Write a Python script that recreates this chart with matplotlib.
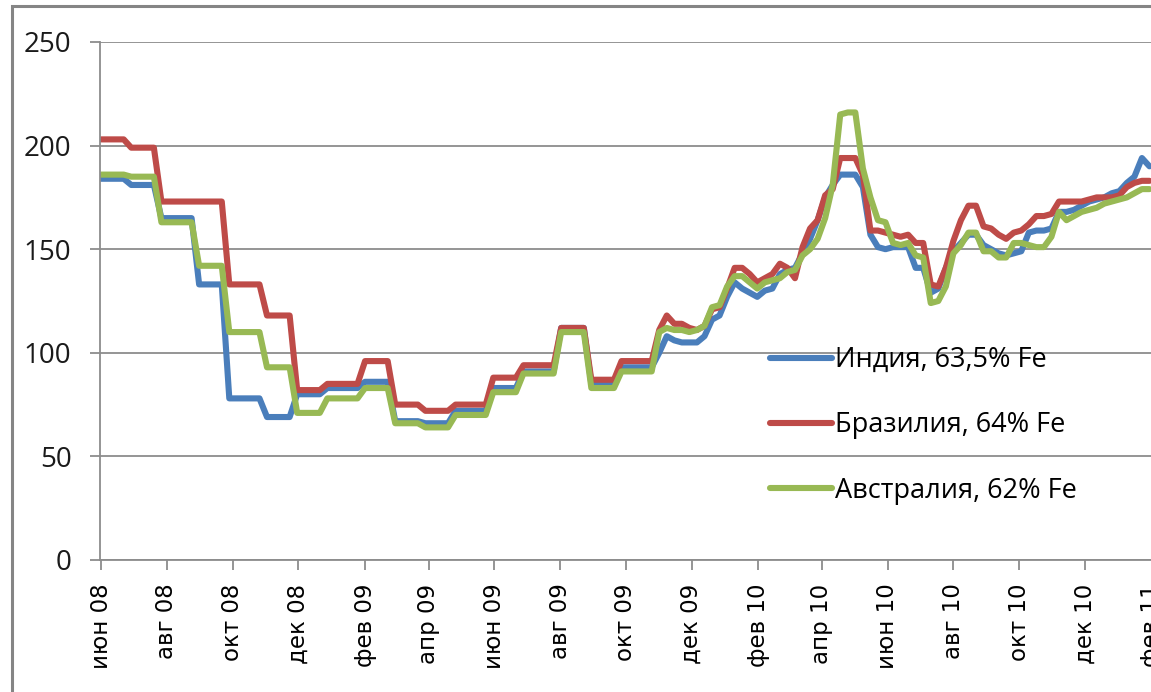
import pandas as pd
import matplotlib
matplotlib.use('Agg')
import matplotlib.pyplot as plt
from matplotlib.patches import Rectangle

# =============================================================================
# Данные: недельные цены железной руды, $/т, с 1 июня 2008
# =============================================================================
start_date = '2008-06-01'

india = [
    184, 184, 184, 184, 181, 181, 181, 181, 165, 165,
    165, 165, 165, 133, 133, 133, 133, 78, 78, 78,
    78, 78, 69, 69, 69, 69, 80, 80, 80, 80,
    83, 83, 83, 83, 83, 86, 86, 86, 86, 67,
    67, 67, 67, 66, 66, 66, 66, 72, 72, 72,
    72, 72, 83, 83, 83, 83, 91, 91, 91, 91,
    91, 112, 112, 112, 112, 85, 85, 85, 85, 93,
    93, 93, 93, 93, 100, 108, 106, 105, 105, 105,
    108, 116, 118, 127, 134, 131, 129, 127, 130, 131,
    138, 140, 141, 148, 155, 164, 175, 181, 186, 186,
    186, 180, 157, 151, 150, 151, 151, 151, 141, 141,
    129, 131, 141, 149, 153, 157, 157, 152, 150, 148,
    147, 148, 149, 158, 159, 159, 160, 168, 168, 169,
    171, 173, 174, 175, 177, 178, 182, 185, 194, 190,
]

brazil = [
    203, 203, 203, 203, 199, 199, 199, 199, 173, 173,
    173, 173, 173, 173, 173, 173, 173, 133, 133, 133,
    133, 133, 118, 118, 118, 118, 82, 82, 82, 82,
    85, 85, 85, 85, 85, 96, 96, 96, 96, 75,
    75, 75, 75, 72, 72, 72, 72, 75, 75, 75,
    75, 75, 88, 88, 88, 88, 94, 94, 94, 94,
    94, 112, 112, 112, 112, 87, 87, 87, 87, 96,
    96, 96, 96, 96, 111, 118, 114, 114, 112, 111,
    113, 121, 122, 131, 141, 141, 138, 134, 136, 138,
    143, 141, 136, 151, 160, 164, 176, 179, 194, 194,
    194, 186, 159, 159, 158, 157, 156, 157, 153, 153,
    133, 132, 141, 154, 164, 171, 171, 161, 160, 157,
    155, 158, 159, 162, 166, 166, 167, 173, 173, 173,
    173, 174, 175, 175, 175, 176, 180, 182, 183, 183,
]

australia = [
    186, 186, 186, 186, 185, 185, 185, 185, 163, 163,
    163, 163, 163, 142, 142, 142, 142, 110, 110, 110,
    110, 110, 93, 93, 93, 93, 71, 71, 71, 71,
    78, 78, 78, 78, 78, 83, 83, 83, 83, 66,
    66, 66, 66, 64, 64, 64, 64, 70, 70, 70,
    70, 70, 81, 81, 81, 81, 90, 90, 90, 90,
    90, 110, 110, 110, 110, 83, 83, 83, 83, 91,
    91, 91, 91, 91, 110, 112, 111, 111, 110, 111,
    113, 122, 123, 132, 137, 137, 134, 131, 134, 135,
    136, 139, 140, 147, 150, 155, 165, 181, 215, 216,
    216, 189, 175, 164, 163, 153, 152, 153, 147, 146,
    124, 125, 132, 148, 152, 158, 158, 149, 149, 146,
    146, 153, 153, 152, 151, 151, 156, 168, 164, 166,
    168, 169, 170, 172, 173, 174, 175, 177, 179, 179,
]

series_labels = ['Индия, 63,5% Fe', 'Бразилия, 64% Fe', 'Австралия, 62% Fe']
series_colors = ['#4A7EBB', '#BE4B48', '#98B954']

tick_labels = ['июн 08', 'авг 08', 'окт 08', 'дек 08', 'фев 09', 'апр 09',
               'июн 09', 'авг 09', 'окт 09', 'дек 09', 'фев 10', 'апр 10',
               'июн 10', 'авг 10', 'окт 10', 'дек 10', 'фев 11']
y_ticks = [0, 50, 100, 150, 200, 250]

# =============================================================================
# Рисунок / Figure
# =============================================================================
W, H = 1151, 692
fig = plt.figure(figsize=(W / 100, H / 100), dpi=100)

# ось X уходит за правый край картинки (как на исходном скриншоте)
px_per_day = 1.0775
x0 = pd.Timestamp('2008-05-31')
x1 = pd.Timestamp('2011-03-01')
width_px = (x1 - x0).days * px_per_day
ax = fig.add_axes([100 / W, 1 - 560 / H, width_px / W, 518 / H])

weeks = pd.date_range(start_date, periods=len(india), freq='7D')
for vals, lab, col in zip([india, brazil, australia], series_labels, series_colors):
    ax.plot(weeks, vals, color=col, lw=4.4, label=lab,
            solid_joinstyle='round', solid_capstyle='round')

ax.set_xlim(x0, x1)
ax.set_ylim(0, 250)
ax.set_yticks(y_ticks)
ax.set_yticklabels([str(v) for v in y_ticks], fontfamily='Open Sans',
                   fontsize=20, color='#1a1a1a')

tick_dates = pd.date_range('2008-06-01', periods=len(tick_labels), freq='2MS')
ax.set_xticks(tick_dates)
ax.set_xticklabels(tick_labels, rotation=90, fontfamily='DejaVu Sans',
                   fontsize=16.5, color='#000000', va='top', ha='center')

ax.yaxis.grid(True, color='#8c8c8c', lw=1.3)
ax.set_axisbelow(True)
for s in ['top', 'right']:
    ax.spines[s].set_visible(False)
for s in ['left', 'bottom']:
    ax.spines[s].set_color('#8c8c8c')
    ax.spines[s].set_linewidth(1.3)
ax.tick_params(axis='y', direction='out', length=7.5, width=1.3,
               color='#8c8c8c', pad=13)
ax.tick_params(axis='x', direction='out', length=7, width=1.3,
               color='#8c8c8c', pad=10)

ax.legend(loc='upper left', bbox_to_anchor=(770 / W, 1 - 346 / H),
          bbox_transform=fig.transFigure, frameon=False,
          prop=dict(family='Open Sans', size=19.5),
          handlelength=2.3, handletextpad=0.1, labelspacing=1.38,
          borderpad=0, borderaxespad=0)

# рамка диаграммы (правый и нижний края обрезаны)
fig.add_artist(Rectangle((12 / W, -0.1), 1.2, 1 - 6 / H + 0.1,
                         transform=fig.transFigure, fill=False,
                         edgecolor='#858585', lw=2.2, clip_on=False))

fig.savefig('out.png', dpi=100)
plt.close(fig)
